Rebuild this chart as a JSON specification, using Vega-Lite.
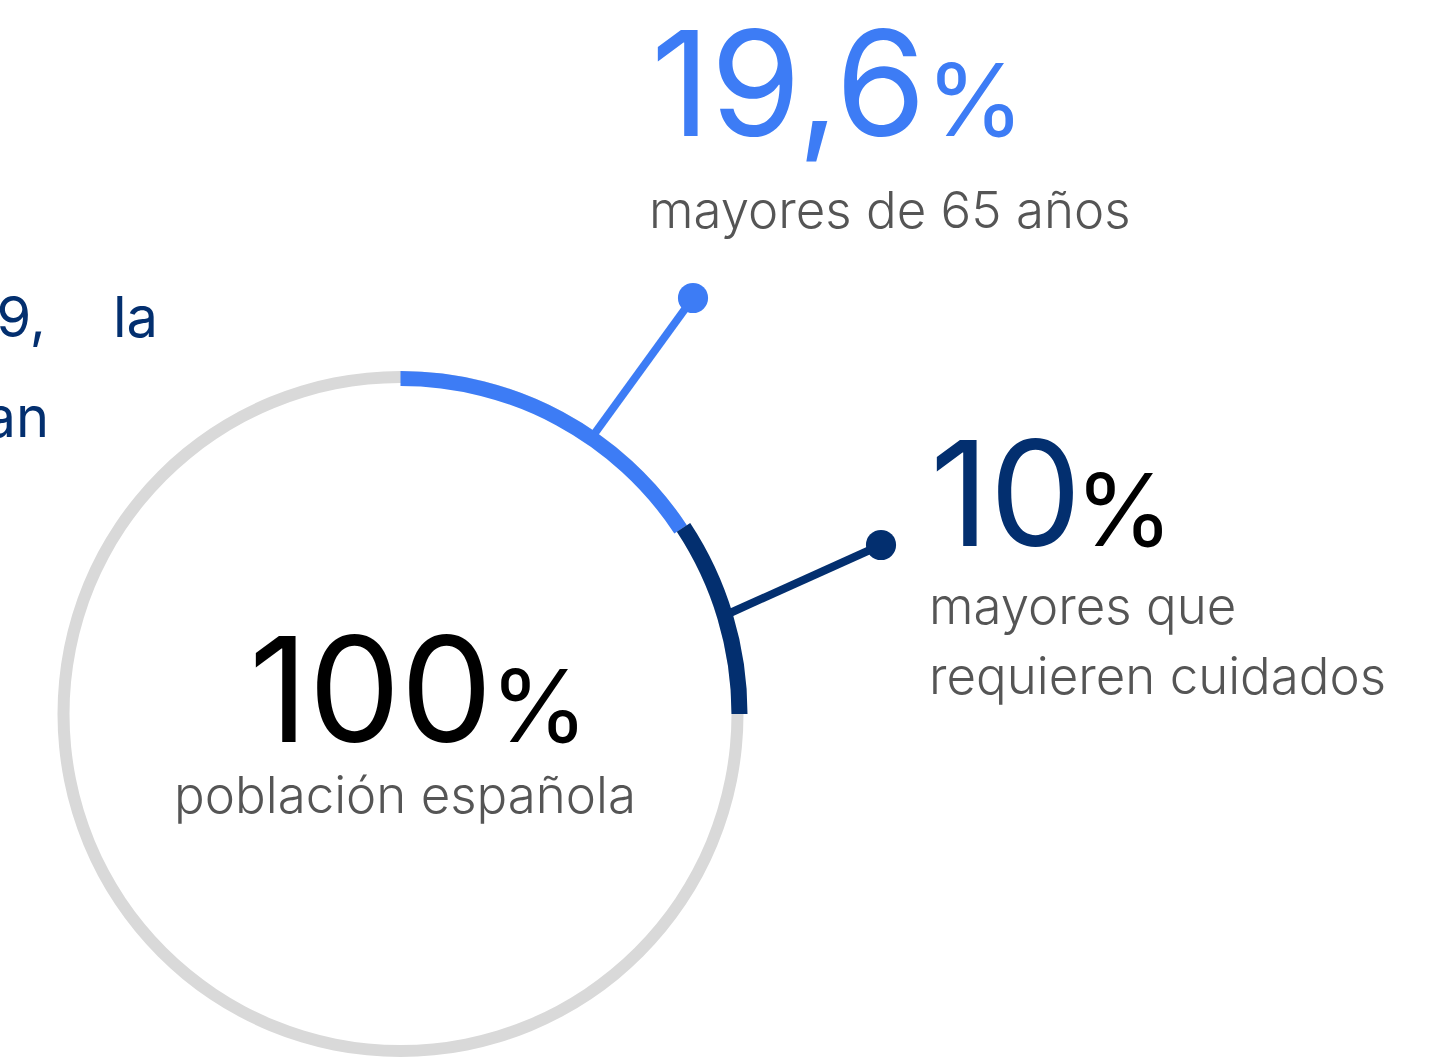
{
  "$schema": "https://vega.github.io/schema/vega-lite/v6.json",
  "width": 1450,
  "height": 1060,
  "autosize": {"type": "none"},
  "padding": 0,
  "background": "white",
  "config": {"view": {"stroke": null}, "font": "Inter"},
  "datasets": {
    "ring": [
      {"segment": "población española", "cx": 400.5, "cy": 714, "start": 0, "end": 360},
      {"segment": "mayores de 65 años", "cx": 400.5, "cy": 714, "start": 0, "end": 56.6},
      {"segment": "mayores que requieren cuidados", "cx": 400.5, "cy": 714, "start": 56.6, "end": 90}
    ],
    "callouts": [
      {"segment": "mayores de 65 años", "x1": 595, "y1": 433, "x2": 693, "y2": 298},
      {"segment": "mayores que requieren cuidados", "x1": 730, "y1": 613, "x2": 881, "y2": 545}
    ],
    "labels": [
      {"role": "num65", "text": "19,6", "x": 651, "y": 136},
      {"role": "pct65", "text": "%", "x": 926, "y": 136},
      {"role": "sub", "text": "mayores de 65 años", "x": 649, "y": 228},
      {"role": "numCare", "text": "10", "x": 930, "y": 546},
      {"role": "pctBlack", "text": "%", "x": 1075, "y": 546},
      {"role": "sub", "text": "mayores que", "x": 929, "y": 624},
      {"role": "sub", "text": "requieren cuidados", "x": 929, "y": 694},
      {"role": "numAll", "text": "100", "x": 249, "y": 742},
      {"role": "pctBlack", "text": "%", "x": 490, "y": 742},
      {"role": "subCenter", "text": "población española", "x": 405, "y": 813},
      {"role": "leftRight", "text": "En 2019,", "x": 46, "y": 337},
      {"role": "leftLeft", "text": "la", "x": 113, "y": 337},
      {"role": "leftRight", "text": "an", "x": 49, "y": 437}
    ]
  },
  "encoding": {
    "x": {"type": "quantitative", "scale": {"domain": [0, 1450], "range": [0, 1450], "nice": false, "zero": false}, "axis": null},
    "y": {"type": "quantitative", "scale": {"domain": [0, 1060], "range": [0, 1060], "nice": false, "zero": false}, "axis": null}
  },
  "layer": [
    {
      "data": {"name": "ring"},
      "transform": [{"filter": "datum.segment === 'población española'"}],
      "mark": {"type": "arc", "radius": 343, "radius2": 331, "color": "#d9d9d9"},
      "encoding": {
        "x": {"field": "cx", "type": "quantitative"},
        "y": {"field": "cy", "type": "quantitative"},
        "theta": {"field": "start", "type": "quantitative", "scale": {"domain": [0, 360], "range": [0, 6.283185307]}},
        "theta2": {"field": "end"}
      }
    },
    {
      "data": {"name": "callouts"},
      "transform": [{"filter": "datum.segment === 'mayores de 65 años'"}],
      "mark": {"type": "rule", "color": "#3d7cf5", "strokeWidth": 8},
      "encoding": {
        "x": {"field": "x1", "type": "quantitative"},
        "y": {"field": "y1", "type": "quantitative"},
        "x2": {"field": "x2"},
        "y2": {"field": "y2"}
      }
    },
    {
      "data": {"name": "callouts"},
      "transform": [{"filter": "datum.segment === 'mayores que requieren cuidados'"}],
      "mark": {"type": "rule", "color": "#032f6f", "strokeWidth": 8},
      "encoding": {
        "x": {"field": "x1", "type": "quantitative"},
        "y": {"field": "y1", "type": "quantitative"},
        "x2": {"field": "x2"},
        "y2": {"field": "y2"}
      }
    },
    {
      "data": {"name": "ring"},
      "transform": [{"filter": "datum.segment === 'mayores de 65 años'"}],
      "mark": {"type": "arc", "radius": 343, "radius2": 328, "color": "#3d7cf5"},
      "encoding": {
        "x": {"field": "cx", "type": "quantitative"},
        "y": {"field": "cy", "type": "quantitative"},
        "theta": {"field": "start", "type": "quantitative", "scale": {"domain": [0, 360], "range": [0, 6.283185307]}},
        "theta2": {"field": "end"}
      }
    },
    {
      "data": {"name": "ring"},
      "transform": [{"filter": "datum.segment === 'mayores que requieren cuidados'"}],
      "mark": {"type": "arc", "radius": 347, "radius2": 331, "color": "#032f6f"},
      "encoding": {
        "x": {"field": "cx", "type": "quantitative"},
        "y": {"field": "cy", "type": "quantitative"},
        "theta": {"field": "start", "type": "quantitative", "scale": {"domain": [0, 360], "range": [0, 6.283185307]}},
        "theta2": {"field": "end"}
      }
    },
    {
      "data": {"name": "callouts"},
      "transform": [{"filter": "datum.segment === 'mayores de 65 años'"}],
      "mark": {"type": "circle", "color": "#3d7cf5", "size": 908, "opacity": 1},
      "encoding": {
        "x": {"field": "x2", "type": "quantitative"},
        "y": {"field": "y2", "type": "quantitative"}
      }
    },
    {
      "data": {"name": "callouts"},
      "transform": [{"filter": "datum.segment === 'mayores que requieren cuidados'"}],
      "mark": {"type": "circle", "color": "#032f6f", "size": 908, "opacity": 1},
      "encoding": {
        "x": {"field": "x2", "type": "quantitative"},
        "y": {"field": "y2", "type": "quantitative"}
      }
    },
    {
      "data": {"name": "labels"},
      "transform": [{"filter": "datum.role === 'num65'"}],
      "mark": {"type": "text", "align": "left", "baseline": "alphabetic", "fontSize": 146, "fontWeight": 400, "color": "#3d7cf5"},
      "encoding": {"x": {"field": "x", "type": "quantitative"}, "y": {"field": "y", "type": "quantitative"}, "text": {"field": "text"}}
    },
    {
      "data": {"name": "labels"},
      "transform": [{"filter": "datum.role === 'pct65'"}],
      "mark": {"type": "text", "align": "left", "baseline": "alphabetic", "fontSize": 100, "fontWeight": 400, "color": "#3d7cf5"},
      "encoding": {"x": {"field": "x", "type": "quantitative"}, "y": {"field": "y", "type": "quantitative"}, "text": {"field": "text"}}
    },
    {
      "data": {"name": "labels"},
      "transform": [{"filter": "datum.role === 'numCare'"}],
      "mark": {"type": "text", "align": "left", "baseline": "alphabetic", "fontSize": 146, "fontWeight": 400, "color": "#032f6f"},
      "encoding": {"x": {"field": "x", "type": "quantitative"}, "y": {"field": "y", "type": "quantitative"}, "text": {"field": "text"}}
    },
    {
      "data": {"name": "labels"},
      "transform": [{"filter": "datum.role === 'numAll'"}],
      "mark": {"type": "text", "align": "left", "baseline": "alphabetic", "fontSize": 146, "fontWeight": 400, "color": "#000000"},
      "encoding": {"x": {"field": "x", "type": "quantitative"}, "y": {"field": "y", "type": "quantitative"}, "text": {"field": "text"}}
    },
    {
      "data": {"name": "labels"},
      "transform": [{"filter": "datum.role === 'pctBlack'"}],
      "mark": {"type": "text", "align": "left", "baseline": "alphabetic", "fontSize": 100, "fontWeight": 400, "color": "#000000"},
      "encoding": {"x": {"field": "x", "type": "quantitative"}, "y": {"field": "y", "type": "quantitative"}, "text": {"field": "text"}}
    },
    {
      "data": {"name": "labels"},
      "transform": [{"filter": "datum.role === 'sub'"}],
      "mark": {"type": "text", "align": "left", "baseline": "alphabetic", "fontSize": 51, "fontWeight": 300, "color": "#555555"},
      "encoding": {"x": {"field": "x", "type": "quantitative"}, "y": {"field": "y", "type": "quantitative"}, "text": {"field": "text"}}
    },
    {
      "data": {"name": "labels"},
      "transform": [{"filter": "datum.role === 'subCenter'"}],
      "mark": {"type": "text", "align": "center", "baseline": "alphabetic", "fontSize": 51, "fontWeight": 300, "color": "#555555"},
      "encoding": {"x": {"field": "x", "type": "quantitative"}, "y": {"field": "y", "type": "quantitative"}, "text": {"field": "text"}}
    },
    {
      "data": {"name": "labels"},
      "transform": [{"filter": "datum.role === 'leftRight'"}],
      "mark": {"type": "text", "align": "right", "baseline": "alphabetic", "fontSize": 56, "fontWeight": 400, "color": "#032f6f"},
      "encoding": {"x": {"field": "x", "type": "quantitative"}, "y": {"field": "y", "type": "quantitative"}, "text": {"field": "text"}}
    },
    {
      "data": {"name": "labels"},
      "transform": [{"filter": "datum.role === 'leftLeft'"}],
      "mark": {"type": "text", "align": "left", "baseline": "alphabetic", "fontSize": 56, "fontWeight": 400, "color": "#032f6f"},
      "encoding": {"x": {"field": "x", "type": "quantitative"}, "y": {"field": "y", "type": "quantitative"}, "text": {"field": "text"}}
    }
  ]
}
